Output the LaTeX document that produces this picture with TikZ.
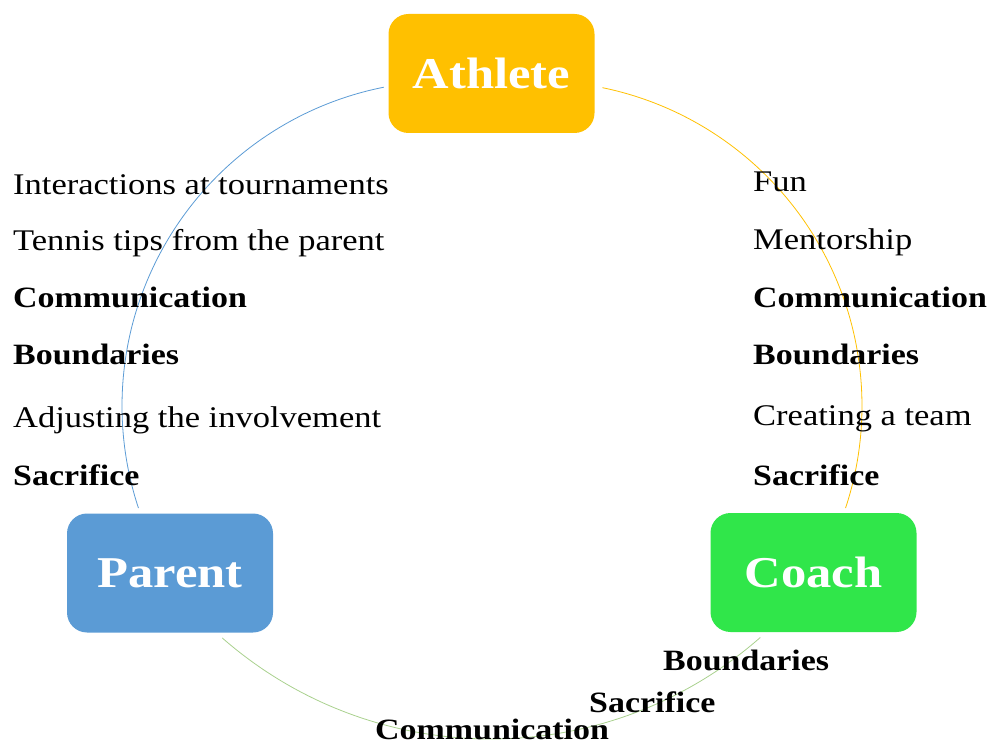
\documentclass[tikz,border=0pt]{standalone}
\usepackage{fontspec}
\setmainfont{Liberation Serif}[FakeStretch=1.15]
\definecolor{athletegold}{HTML}{FFC000}
\definecolor{parentblue}{HTML}{5B9BD5}
\definecolor{coachgreen}{HTML}{30E64A}
\definecolor{linkgreen}{HTML}{A9D18E}
\begin{document}
\begin{tikzpicture}[x=1pt,y=1pt,
  rolebox/.style={rounded corners=20pt, minimum width=206pt, minimum height=119pt,
    inner sep=0pt, text=white, font=\fontsize{44}{44}\selectfont\bfseries},
  item/.style={anchor=base west, inner sep=0pt, font=\fontsize{30}{30}\selectfont},
  keyitem/.style={anchor=base west, inner sep=0pt, font=\fontsize{29.5}{30}\selectfont\bfseries},
  link/.style={line width=0.8pt}]
\useasboundingbox (0,0) rectangle (989,-746);

% centres of the three connecting arcs
\coordinate (cBlue) at (447,-406);
\coordinate (cGold) at (537,-406);
\coordinate (cGreen) at (491,-331);

% cycle arcs
\draw[link, draw=parentblue] (cBlue) ++(101.2:325) arc[start angle=101.2, end angle=198.3, radius=325];
\draw[link, draw=athletegold] (cGold) ++(78.4:325) arc[start angle=78.4, end angle=-18.3, radius=325];
\draw[link, draw=linkgreen] (cGreen) ++(228.8:408) arc[start angle=228.8, end angle=311.3, radius=408];

% athlete -- parent themes
\node[item] (pa1) at (13,-195) {Interactions at tournaments};
\node[item] (pa2) at (13,-251) {Tennis tips from the parent};
\node[keyitem] (pa3) at (13,-308) {Communication};
\node[keyitem] (pa4) at (13,-364) {Boundaries};
\node[item] (pa5) at (13,-427) {Adjusting the involvement};
\node[keyitem] (pa6) at (13,-485) {Sacrifice};

% athlete -- coach themes
\node[item] (ac1) at (753,-192) {Fun};
\node[item] (ac2) at (753,-250) {Mentorship};
\node[keyitem] (ac3) at (753,-308) {Communication};
\node[keyitem] (ac4) at (753,-365) {Boundaries};
\node[item] (ac5) at (753,-425) {Creating a team};
\node[keyitem] (ac6) at (753,-485) {Sacrifice};

% parent -- coach themes
\node[keyitem] (pc1) at (663,-670) {Boundaries};
\node[keyitem] (pc2) at (589,-712) {Sacrifice};
\node[keyitem] (pc3) at (375,-739) {Communication};

% the three roles
\node[rolebox, fill=athletegold] (athlete) at (491.5,-73.5) {Athlete};
\node[rolebox, fill=parentblue] (parent) at (170,-573) {Parent};
\node[rolebox, fill=coachgreen] (coach) at (813.5,-572.5) {Coach};
\end{tikzpicture}
\end{document}
